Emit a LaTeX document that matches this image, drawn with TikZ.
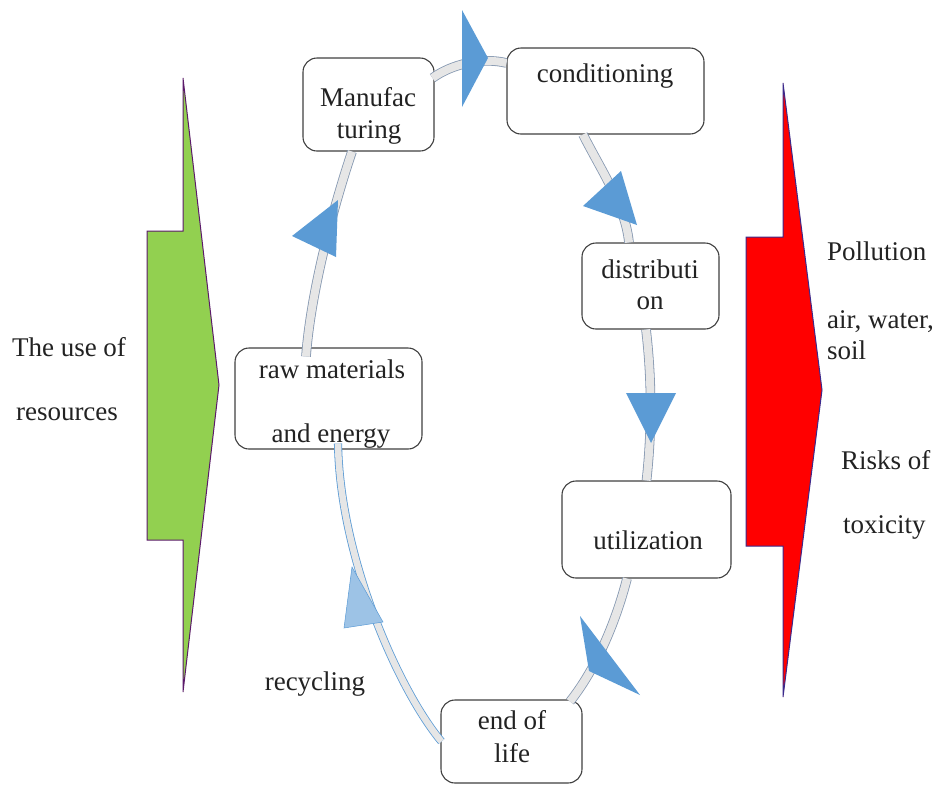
\documentclass[tikz,border=0pt]{standalone}
\usepackage{fontspec}
\setmainfont{Liberation Serif}
\newfontfamily\tmsfont{Liberation Serif}
\definecolor{boxline}{HTML}{404040}
\definecolor{txtcol}{HTML}{222222}
\definecolor{bandedge}{HTML}{8497B0}
\definecolor{bandfill}{HTML}{E6E6E6}
\definecolor{headblue}{HTML}{5B9BD5}
\definecolor{headlight}{HTML}{9DC3E6}
\definecolor{greenfill}{HTML}{92D050}
\definecolor{greenedge}{HTML}{5C1A6B}
\definecolor{rededge}{HTML}{3B2A8C}
\tikzset{
  box/.style={draw=boxline, line width=1.1pt, rounded corners=14pt, fill=white, inner sep=0pt},
  txt/.style={font=\tmsfont\fontsize{27}{32}\selectfont, text=txtcol, inner sep=0pt, anchor=base},
  ltxt/.style={txt, anchor=base west},
  band/.style={draw=bandedge, line width=0.8pt, double=bandfill, double distance=8pt},
  rband/.style={draw=headblue, line width=0.8pt, double=bandfill, double distance=6.5pt},
  head/.style={fill=headblue},
  lhead/.style={fill=headlight, draw=headblue, line width=0.5pt}
}
\begin{document}
\begin{tikzpicture}[x=1pt,y=-1pt]
\useasboundingbox (0,0) rectangle (941,785);

\draw[fill=greenfill, draw=greenedge, line width=1pt] (183,78) -- (219,385) -- (183,692) -- (183,540) -- (147,540) -- (147,231) -- (183,231) -- cycle;
\draw[fill=red, draw=rededge, line width=1pt] (783,83) -- (822,390) -- (783,697) -- (783,546) -- (746,546) -- (746,237) -- (783,237) -- cycle;

\node[box, minimum width=187pt, minimum height=101pt] (raw) at (328.5,398.5) {};
\node[box, minimum width=131pt, minimum height=93pt] (manuf) at (368.5,104.5) {};
\node[box, minimum width=197pt, minimum height=86pt] (cond) at (605.5,91) {};
\node[box, minimum width=137pt, minimum height=86pt] (dist) at (650.5,286) {};
\node[box, minimum width=169pt, minimum height=97pt] (util) at (646.5,529.5) {};
\node[box, minimum width=141pt, minimum height=83pt] (eol) at (511.5,741.5) {};

\draw[band] ([xshift=-22.5pt,yshift=-9pt]raw.north) .. controls (311,290) and (334,205) .. ([xshift=-16.5pt]manuf.south);
\draw[band] ([xshift=-2pt,yshift=26.5pt]manuf.east) .. controls (452,64) and (482,57) .. ([yshift=28pt]cond.west);
\draw[band] ([xshift=-22.5pt]cond.south) .. controls (602,172) and (625,205) .. ([xshift=-21.5pt]dist.north);
\draw[band] ([xshift=-4.5pt]dist.south) .. controls (652,380) and (652,430) .. (util.north);
\draw[band] ([xshift=-19.5pt]util.south) .. controls (615,625) and (595,670) .. ([xshift=58.5pt,yshift=-2pt]eol.north);
\draw[rband] ([xshift=1pt]eol.west) .. controls (400,692) and (340,560) .. ([xshift=9.5pt,yshift=6pt]raw.south);

\fill[head] (462,10) -- (462,107) -- (488,58) -- cycle;
\fill[head] (292,236) -- (338,200) -- (336,257) -- cycle;
\fill[head] (583,206) -- (621,171) -- (637,225) -- cycle;
\fill[head] (626,393) -- (676,393) -- (651,443) -- cycle;
\fill[head] (580,616) -- (589,671) -- (640,695) -- cycle;
\filldraw[lhead] (352,567) -- (344,628) -- (383,622) -- cycle;

\node[txt] (t1) at (368,106) {Manufac};
\node[txt] (t2) at (369,138) {turing};
\node[txt] (t3) at (605,82) {conditioning};
\node[txt] (t4) at (650,278) {distributi};
\node[txt] (t5) at (650,309) {on};
\node[txt] (t6) at (332,378) {raw materials};
\node[txt] (t7) at (331,442) {and energy};
\node[txt] (t8) at (648,549) {utilization};
\node[txt] (t9) at (512,729) {end of};
\node[txt] (t10) at (512,762) {life};
\node[txt] (t11) at (69,356) {The use of};
\node[txt] (t12) at (67,420) {resources};
\node[txt] (t13) at (315,690) {recycling};
\node[ltxt] (t14) at (827,260) {Pollution};
\node[ltxt] (t15) at (827,328) {air, water,};
\node[ltxt] (t16) at (827,359) {soil};
\node[ltxt] (t17) at (841,469) {Risks of};
\node[ltxt] (t18) at (843,533) {toxicity};
\end{tikzpicture}
\end{document}
